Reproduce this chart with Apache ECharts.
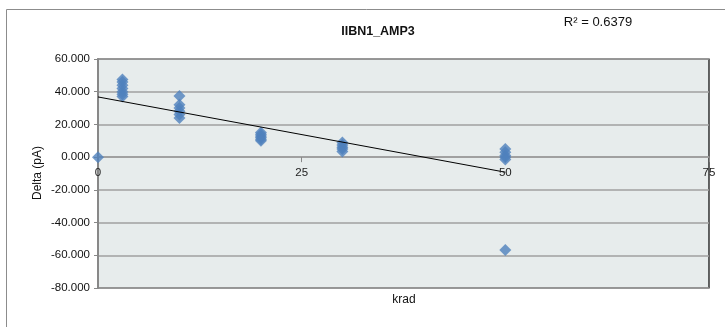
<!DOCTYPE html>
<html><head><meta charset="utf-8">
<script src="https://cdn.jsdelivr.net/npm/echarts@6/dist/echarts.min.js"></script>
<style>html,body{margin:0;padding:0;background:#fff}#c{width:725px;height:327px}</style>
</head><body><div id="c"></div>
<script>
const titleText = 'IIBN1_AMP3';
const r2Text = 'R² = 0.6379';
const xName = 'krad';
const yName = 'Delta (pA)';
const xTicks = [0, 25, 50, 75];
const yTicks = [-80, -60, -40, -20, 0, 20, 40, 60];
const krad  = [0, 3,3,3,3,3,3,3, 10,10,10,10,10,10, 20,20,20,20,20,20, 30,30,30,30,30, 50,50,50,50,50,50];
const delta = [0, 47.5,46,44,42,40,38.5,37, 37.4,32,30,28,26,24, 15,14,13,12,11,10, 9,7.5,6,5,3.5, 5,3,1,0,-1.5,-56.7];
const trendX = [0, 50];
const trendY = [36.8, -9.2];

const FONT = 'Liberation Sans';
const chart = echarts.init(document.getElementById('c'), null, {renderer: 'canvas'});
const baseGraphic = [
  {type: 'rect', shape: {x: 6.5, y: 9.5, width: 740, height: 340}, style: {fill: 'none', stroke: '#8c8c8c', lineWidth: 1}, z: -10},
  {type: 'text', x: 378, y: 32, style: {text: titleText, font: 'bold 12.5px "' + FONT + '"', fill: '#111', textAlign: 'center', textVerticalAlign: 'middle'}},
  {type: 'text', x: 598, y: 22, style: {text: r2Text, font: '13px "' + FONT + '"', fill: '#111', textAlign: 'center', textVerticalAlign: 'middle'}},
  {type: 'text', x: 404, y: 300, style: {text: xName, font: '12px "' + FONT + '"', fill: '#111', textAlign: 'center', textVerticalAlign: 'middle'}},
  {type: 'text', x: 38, y: 173, rotation: Math.PI / 2, style: {text: yName, font: '12px "' + FONT + '"', fill: '#111', textAlign: 'center', textVerticalAlign: 'middle'}}
];
chart.setOption({
  animation: false,
  backgroundColor: '#ffffff',
  textStyle: {fontFamily: FONT},
  grid: {left: 98, top: 59, right: 16, bottom: 39, show: true, backgroundColor: '#e7ecec', borderColor: '#000', borderWidth: 1.2},
  xAxis: {
    type: 'value', min: xTicks[0], max: xTicks[xTicks.length - 1], interval: 25,
    axisLine: {onZero: true, lineStyle: {color: '#9a9a9a', width: 1.5}},
    axisTick: {show: true, length: 5, lineStyle: {color: '#888'}},
    axisLabel: {show: false},
    splitLine: {show: false}
  },
  yAxis: {
    type: 'value', min: yTicks[0], max: yTicks[yTicks.length - 1], interval: 20,
    axisLine: {show: true, onZero: false, lineStyle: {color: '#888', width: 2}},
    axisTick: {show: true, length: 4, lineStyle: {color: '#888'}},
    axisLabel: {color: '#111', fontSize: 11.5, fontFamily: FONT, margin: 8, formatter: v => v.toFixed(3)},
    splitLine: {show: true, lineStyle: {color: '#a0a0a0', width: 1.5}}
  },
  series: [
    {type: 'scatter', data: krad.map((x, i) => [x, delta[i]]), symbol: 'diamond', symbolSize: [12, 12],
     itemStyle: {color: '#4f81bd'}, z: 3},
    {type: 'line', data: trendX.map((x, i) => [x, trendY[i]]), showSymbol: false, symbol: 'none',
     lineStyle: {color: '#000', width: 1}, z: 4}
  ],
  graphic: baseGraphic
});
// x tick labels placed just below the zero line, positioned via the chart's own scales
const labelGraphic = xTicks.map(t => {
  const p = chart.convertToPixel({xAxisIndex: 0, yAxisIndex: 0}, [t, 0]);
  return {type: 'text', x: p[0], y: p[1] + 16, z: 10,
    style: {text: String(t), font: '11.5px "' + FONT + '"', fill: '#222', textAlign: 'center', textVerticalAlign: 'middle'}};
});
chart.setOption({graphic: baseGraphic.concat(labelGraphic)}, {replaceMerge: ['graphic']});
</script></body></html>
